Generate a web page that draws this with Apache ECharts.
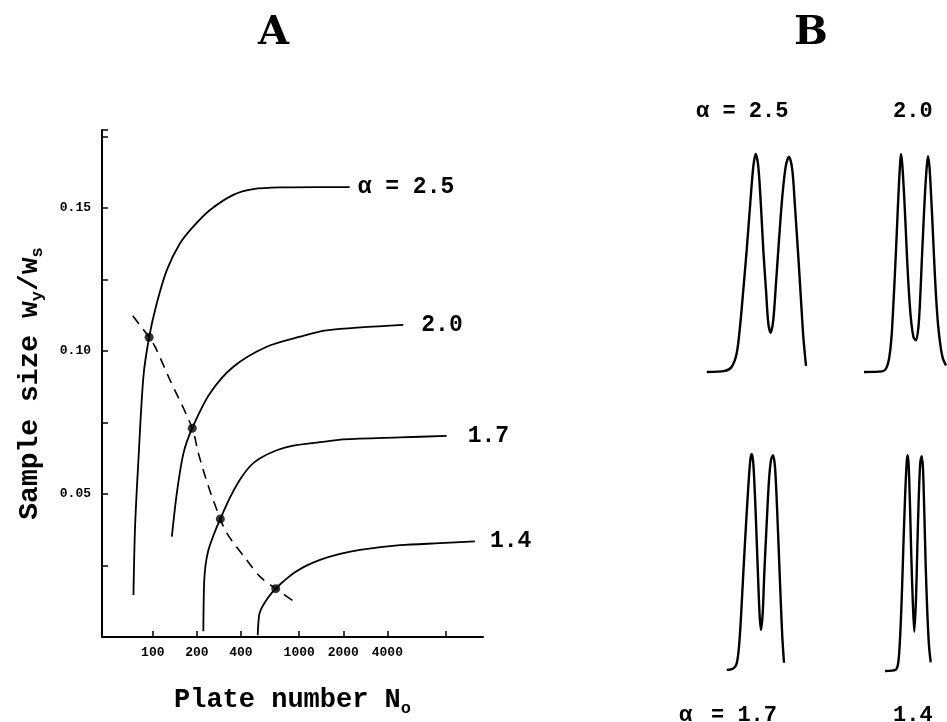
<!DOCTYPE html>
<html>
<head>
<meta charset="utf-8">
<script src="https://cdn.jsdelivr.net/npm/echarts@6.0.0/dist/echarts.min.js"></script>
<style>
html, body { margin: 0; padding: 0; background: #fff; }
#main { width: 947px; height: 722px; }
</style>
</head>
<body>
<div id="main"></div>
<script type="text/javascript">
	// panel A: sample size vs plate number, [N, wy/ws]
	var alpha25 = [ [73.8, 0.0147], [75.7, 0.0386], [79.8, 0.0619], [86.3, 0.091], [94.4, 0.1048],
			[106.5, 0.1167], [124.7, 0.1283], [153.5, 0.1377], [189, 0.1435], [246, 0.1493],
			[355, 0.1546], [486, 0.1566], [778, 0.1572], [1387, 0.1573], [2210, 0.1573] ];
	var alpha20 = [ [135, 0.0351], [146, 0.0503], [162, 0.0642], [186, 0.073], [246, 0.0852],
			[355, 0.0945], [600, 0.1015], [1012, 0.105], [1540, 0.1072], [5140, 0.1091] ];
	var alpha17 = [ [221.5, 0.002], [224, 0.0184], [229.3, 0.0251], [239.6, 0.0303], [254, 0.0342],
			[270.4, 0.0378], [289.3, 0.0413], [320, 0.0464], [354.9, 0.051], [394.4, 0.0551],
			[461.6, 0.0597], [540, 0.0625], [702, 0.0653], [911, 0.0669], [1387, 0.0681],
			[2000, 0.0691], [4875, 0.0698], [10160, 0.0703] ];
	var alpha14 = [ [520.8, 0.0006], [531.6, 0.0074], [548.5, 0.0097], [575, 0.0116], [612.4, 0.0137],
			[652, 0.0155], [691.3, 0.0169], [751, 0.0187], [825.5, 0.0205], [936, 0.0226],
			[1095, 0.0247], [1387, 0.027], [1899, 0.0291], [2600, 0.0305], [4876, 0.0321],
			[9144, 0.0328], [15849, 0.0334] ];
	var optimumLine = [ [73, 0.1123], [94.4, 0.1048], [103.6, 0.1015], [131, 0.0899], [186, 0.073],
			[205, 0.0642], [240, 0.0526], [289.3, 0.0413], [320, 0.0363], [438, 0.0269],
			[540, 0.0211], [691.3, 0.0169], [962, 0.0118] ];
	var optimumDots = [ [94.4, 0.1048], [186, 0.073], [289.3, 0.0413], [691.3, 0.0169] ];
	var curveNames = [ 'α = 2.5', '2.0', '1.7', '1.4' ];
	var xTickValues = [ 100, 200, 400, 1000, 2000, 4000, 10000 ];
	var xLabelValues = [ 100, 200, 400, 1000, 2000, 4000 ];
	var yLabelValues = [ '0.05', '0.10', '0.15' ];

	// panel B: chromatograms, [time (arb.), response normalised]
	var chrom25 = [ [6.7, 0], [25, 0.005], [31.7, 0.024], [36.7, 0.086], [40, 0.208], [43.3, 0.376],
			[46.7, 0.56], [50, 0.758], [53.3, 0.942], [55.7, 1.0], [58.3, 0.942], [61, 0.758],
			[63.3, 0.56], [66, 0.376], [68.3, 0.223], [70.7, 0.18], [73.3, 0.239], [76, 0.407],
			[79, 0.606], [82.3, 0.804], [85.7, 0.942], [89, 0.988], [92.3, 0.927], [95, 0.758],
			[98.3, 0.529], [101, 0.33], [103.3, 0.162], [106, 0.028] ];
	var chrom20 = [ [164, 0], [182, 0.003], [186, 0.015], [189, 0.06], [191.5, 0.16], [193.5, 0.32],
			[195, 0.46], [196.7, 0.63], [198.3, 0.8], [200, 0.95], [201, 1.0], [202.3, 0.95],
			[204, 0.82], [205.7, 0.66], [207.3, 0.5], [209, 0.36], [211, 0.24], [213.5, 0.16],
			[216, 0.145], [218.3, 0.2], [220, 0.32], [221.7, 0.5], [223.3, 0.66], [225, 0.82],
			[226.7, 0.94], [228, 0.99], [229.5, 0.94], [231, 0.82], [232.7, 0.66], [234.3, 0.5],
			[236, 0.35], [238, 0.22], [240.5, 0.12], [243, 0.06], [246, 0.03] ];
	var chrom17 = [ [26.7, 0.005], [33.3, 0.012], [36.7, 0.035], [39, 0.112], [41, 0.25], [43.3, 0.45],
			[45.7, 0.65], [48.3, 0.849], [50.3, 0.972], [51.7, 1.0], [53.3, 0.957], [55, 0.803],
			[56.7, 0.604], [58.3, 0.404], [59.7, 0.25], [61, 0.189], [62.7, 0.266], [64.3, 0.45],
			[66.7, 0.681], [69, 0.88], [71, 0.972], [73, 0.995], [75, 0.941], [77, 0.757],
			[79, 0.527], [80.7, 0.327], [82.3, 0.158], [84, 0.038] ];
	var chrom14 = [ [185, 0], [195.7, 0.006], [198.3, 0.04], [200, 0.147], [201.7, 0.332], [203.3, 0.562],
			[205, 0.793], [206.7, 0.962], [207.7, 0.995], [208.7, 0.946], [210, 0.762], [211.3, 0.531],
			[212.7, 0.332], [214.3, 0.181], [216, 0.332], [217.3, 0.562], [218.7, 0.793], [220.3, 0.962],
			[221.7, 0.99], [223, 0.931], [224.3, 0.731], [225.7, 0.485], [227.3, 0.27], [229, 0.117],
			[230.7, 0.04] ];

	var mono = '"Liberation Mono", "DejaVu Sans Mono", monospace';
	var serif = '"DejaVu Serif", "Liberation Serif", serif';

	function curve(data, label, dist) {
		return {
			type : 'line',
			xAxisIndex : 0,
			yAxisIndex : 0,
			data : data,
			smooth : 0.3,
			symbol : 'none',
			silent : true,
			lineStyle : {
				color : '#000',
				width : 1.8
			},
			endLabel : {
				show : true,
				formatter : label,
				distance : dist,
				color : '#000',
				fontFamily : mono,
				fontWeight : 'bold',
				fontSize : 23
			}
		};
	}
	function peak(data, idx) {
		return {
			type : 'line',
			xAxisIndex : idx,
			yAxisIndex : idx,
			data : data,
			smooth : 0.3,
			symbol : 'none',
			clip : false,
			silent : true,
			lineStyle : {
				color : '#000',
				width : 2.4
			}
		};
	}
	function hiddenAxis(idx, max) {
		return {
			type : 'value',
			gridIndex : idx,
			min : 0,
			max : max,
			show : false
		};
	}
	function bText(x, y, txt) {
		return {
			type : 'text',
			left : x,
			top : y,
			style : {
				text : txt,
				fill : '#000',
				font : 'bold 22px ' + mono
			}
		};
	}

	var myChart = echarts.init(document.getElementById('main'));
	var option = {
		animation : false,
		backgroundColor : '#fff',
		grid : [ {
			left : 102,
			top : 130,
			width : 381,
			height : 507
		}, {
			left : 700,
			top : 154,
			width : 247,
			height : 218
		}, {
			left : 700,
			top : 454,
			width : 247,
			height : 217
		} ],
		xAxis : [ {
			type : 'log',
			gridIndex : 0,
			min : 45,
			max : 18000,
			name : '{a|Plate number N}{s|o}',
			nameLocation : 'middle',
			nameGap : 47,
			nameTextStyle : {
				rich : {
					a : {
						fontFamily : mono,
						fontWeight : 'bold',
						fontSize : 27,
						color : '#000'
					},
					s : {
						fontFamily : mono,
						fontWeight : 'bold',
						fontSize : 17,
						color : '#000',
						padding : [ 16, 0, 0, 0 ]
					}
				}
			},
			axisLine : {
				lineStyle : {
					color : '#000',
					width : 2
				}
			},
			axisTick : {
				inside : true,
				length : 6,
				customValues : xTickValues,
				lineStyle : {
					color : '#000',
					width : 1.5
				}
			},
			minorTick : {
				show : false
			},
			axisLabel : {
				customValues : xLabelValues,
				color : '#000',
				fontFamily : mono,
				fontWeight : 'bold',
				fontSize : 13,
				margin : 9,
				formatter : function(v) {
					return String(Math.round(v));
				}
			},
			splitLine : {
				show : false
			}
		}, hiddenAxis(1, 247), hiddenAxis(2, 247) ],
		yAxis : [ {
			type : 'value',
			gridIndex : 0,
			min : 0,
			max : 0.17727,
			interval : 0.025,
			name : '{a|Sample size w}{s|y}{a|/w}{s|s}',
			nameLocation : 'middle',
			nameGap : 56,
			nameTextStyle : {
				rich : {
					a : {
						fontFamily : mono,
						fontWeight : 'bold',
						fontSize : 28,
						color : '#000'
					},
					s : {
						fontFamily : mono,
						fontWeight : 'bold',
						fontSize : 17,
						color : '#000',
						padding : [ 16, 0, 0, 0 ]
					}
				}
			},
			axisLine : {
				show : true,
				lineStyle : {
					color : '#000',
					width : 2
				}
			},
			axisTick : {
				show : true,
				inside : true,
				length : 6,
				lineStyle : {
					color : '#000',
					width : 1.5
				}
			},
			axisLabel : {
				color : '#000',
				fontFamily : mono,
				fontWeight : 'bold',
				fontSize : 13,
				margin : 11,
				formatter : function(v) {
					var s = v.toFixed(2);
					return yLabelValues.indexOf(s) >= 0 ? s : '';
				}
			},
			splitLine : {
				show : false
			}
		}, hiddenAxis(1, 1), hiddenAxis(2, 1) ],
		graphic : [ {
			type : 'text',
			left : 258,
			top : 14,
			style : {
				text : 'A',
				fill : '#000',
				font : 'bold 40px ' + serif
			}
		}, {
			type : 'text',
			left : 794,
			top : 14,
			style : {
				text : 'B',
				fill : '#000',
				font : 'bold 40px ' + serif
			}
		}, bText(696, 100, 'α = 2.5'), bText(893, 100, '2.0'), bText(679, 704, 'α'),
				bText(711, 704, '= 1.7'), bText(893, 704, '1.4') ],
		series : [ curve(alpha25, curveNames[0], 8), curve(alpha20, curveNames[1], 18),
				curve(alpha17, curveNames[2], 21), curve(alpha14, curveNames[3], 15), {
					type : 'line',
					xAxisIndex : 0,
					yAxisIndex : 0,
					data : optimumLine,
					smooth : 0.3,
					symbol : 'none',
					silent : true,
					lineStyle : {
						color : '#000',
						width : 1.6,
						type : [ 10, 7 ]
					}
				}, {
					type : 'scatter',
					xAxisIndex : 0,
					yAxisIndex : 0,
					data : optimumDots,
					symbolSize : 9,
					silent : true,
					itemStyle : {
						color : '#000'
					}
				}, peak(chrom25, 1), peak(chrom20, 1), peak(chrom17, 2), peak(chrom14, 2) ]
	};
	myChart.setOption(option);
</script>
</body>
</html>
